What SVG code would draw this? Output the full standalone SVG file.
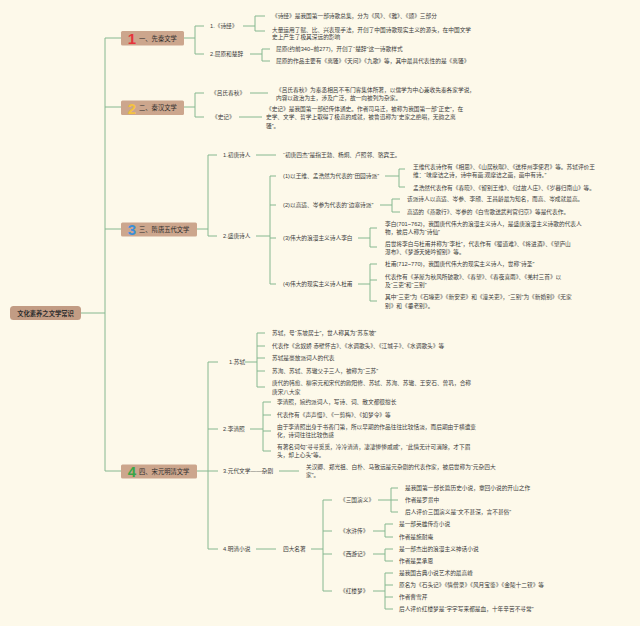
<svg xmlns="http://www.w3.org/2000/svg" width="640" height="626" viewBox="0 0 640 626">
<style>
text{font-family:"Liberation Sans","Noto Sans CJK SC",sans-serif;dominant-baseline:central;fill:#3c3c3c}
.t{font-size:5.7px}
.h{font-size:6.3px;fill:#2e2e2e}
.r{font-size:6.3px;font-weight:bold;fill:#2e2e2e}
.n{font-size:15px;font-weight:bold}
text.n1{fill:#e5343c}
text.n2{fill:#f4c240}
text.n3{fill:#3b8fd8}
text.n4{fill:#3aa548}
.box{fill:#cca68d}
.root{fill:#c29c84}
.l{fill:none;stroke:#86b890;stroke-width:1}
</style>
<rect width="640" height="626" fill="#fdf9ea"/>
<g id="connectors" class="l">
<path d="M81,313H105M105,38V471M105,38H121M105,107H121M105,229H121M105,471H121"/>
<path d="M184,38H195M195,26V54M195,26H204M195,54H204"/>
<path d="M243,26H255M255,16V31M255,16H265M255,31H265"/>
<path d="M250,54H262M262,49V61M262,49H270M262,61H270"/>
<path d="M184,107H195M195,93V117M195,93H204M195,117H204"/>
<path d="M250,93H268M239,117H262"/>
<path d="M197,229H208M208,155V236M208,155H217M208,236H217"/>
<path d="M256,155H276"/>
<path d="M256,236H270M270,176V284M270,176H276M270,205H276M270,238H276M270,284H276"/>
<path d="M385,176H399M399,169V187M399,169H405M399,187H405"/>
<path d="M380,205H392M392,199V212M392,199H400M392,212H400"/>
<path d="M358,238H370M370,228V247M370,228H377M370,247H377"/>
<path d="M358,284H370M370,264V301M370,264H377M370,280H377M370,301H377"/>
<path d="M197,471H208M208,362V549M208,362H218M208,429H218M208,471H218M208,549H218"/>
<path d="M245,362H257M257,333V387M257,333H265M257,346H265M257,358H265M257,371H265M257,387H265"/>
<path d="M250,429H263M263,402V451M263,402H271M263,415H271M263,431H271M263,451H271"/>
<path d="M279,471H299"/>
<path d="M256,549H276M311,549H323M323,500V591M323,500H332M323,531H332M323,554H332M323,591H332"/>
<path d="M378,500H391M391,488V512M391,488H398M391,500H398M391,512H398"/>
<path d="M373,531H385M385,524V537M385,524H393M385,537H393"/>
<path d="M373,554H385M385,549V561M385,549H393M385,561H393"/>
<path d="M373,591H385M385,573V609M385,573H393M385,585H393M385,597H393M385,609H393"/>
</g>
<g id="root"><rect class="root" x="10" y="306" width="71" height="14" rx="3.5"/><text class="r" x="45.5" y="313" text-anchor="middle">文化素养之文学常识</text></g>
<g id="s1"><rect class="box" x="121" y="31" width="63" height="14.5" rx="1.5"/><text class="n n1" x="132" y="38.5" text-anchor="middle">1</text><text class="h" x="139" y="38.3">一、先秦文学</text></g>
<g id="s2"><rect class="box" x="121" y="100.5" width="63" height="14.5" rx="1.5"/><text class="n n2" x="132" y="108" text-anchor="middle">2</text><text class="h" x="139" y="107.8">二、秦汉文学</text></g>
<g id="s3"><rect class="box" x="121" y="222.5" width="76" height="14" rx="1.5"/><text class="n n3" x="132" y="229.8" text-anchor="middle">3</text><text class="h" x="139" y="229.5">三、隋唐五代文学</text></g>
<g id="s4"><rect class="box" x="121" y="464.5" width="76" height="14" rx="1.5"/><text class="n n4" x="132" y="471.8" text-anchor="middle">4</text><text class="h" x="139" y="471.5">四、宋元明清文学</text></g>
<g id="s1c">
<text class="t" x="210" y="26">1.《诗经》</text>
<text class="t" x="272" y="16">《诗经》是我国第一部诗歌总集，分为《风》、《雅》、《颂》三部分</text>
<text class="t" x="272" y="30">大量运用了赋、比、兴表现手法，开创了中国诗歌现实主义的源头，在中国文学</text>
<text class="t" x="272" y="37">史上产生了极其深远的影响</text>
<text class="t" x="210" y="54">2.屈原和楚辞</text>
<text class="t" x="276" y="49">屈原(约前340~前277)，开创了“楚辞”这一诗歌样式</text>
<text class="t" x="276" y="61">屈原的作品主要有《离骚》《天问》《九歌》等，其中最具代表性的是《离骚》</text>
</g>
<g id="s2c">
<text class="t" x="211" y="93">《吕氏春秋》</text>
<text class="t" x="276" y="90">《吕氏春秋》为秦丞相吕不韦门客集体所著，以儒学为中心兼收先秦各家学说，</text>
<text class="t" x="276" y="98">内容以政治为主，涉及广泛，故一向被列为杂家。</text>
<text class="t" x="212" y="117">《史记》</text>
<text class="t" x="266" y="109">《史记》是我国第一部纪传体通史。作者司马迁，被称为我国第一部“正史”，在</text>
<text class="t" x="266" y="117">史学、文学、哲学上取得了极高的成就，被鲁迅称为“史家之绝唱，无韵之离</text>
<text class="t" x="266" y="126">骚”。</text>
</g>
<g id="s3c">
<text class="t" x="223" y="155">1.初唐诗人</text>
<text class="t" x="283" y="155">“初唐四杰”是指王勃、杨炯、卢照邻、骆宾王。</text>
<text class="t" x="223" y="236">2.盛唐诗人</text>
<text class="t" x="283" y="176">(1)以王维、孟浩然为代表的“田园诗派”</text>
<text class="t" x="413" y="167">王维代表诗作有《相思》、《山居秋暝》、《送梓州李使君》等。苏轼评价王</text>
<text class="t" x="413" y="175">维：“味摩诘之诗，诗中有画;观摩诘之画，画中有诗。”</text>
<text class="t" x="413" y="188">孟浩然代表作有《春晓》、《留别王维》、《过故人庄》、《岁暮归南山》等。</text>
<text class="t" x="283" y="205">(2)以高适、岑参为代表的“边塞诗派”</text>
<text class="t" x="407" y="199">该派诗人以高适、岑参、李颀、王昌龄最为知名，而高、岑成就最高。</text>
<text class="t" x="407" y="212">高适的《燕歌行》、岑参的《白雪歌送武判官归京》等是代表作。</text>
<text class="t" x="283" y="238">(3)伟大的浪漫主义诗人李白</text>
<text class="t" x="385" y="224">李白(701~762)，我国唐代伟大的浪漫主义诗人，是盛唐浪漫主义诗歌的代表人</text>
<text class="t" x="385" y="232">物，被后人称为“诗仙”</text>
<text class="t" x="385" y="243.5">后世将李白与杜甫并称为“李杜”，代表作有《蜀道难》、《将进酒》、《望庐山</text>
<text class="t" x="385" y="252">瀑布》、《梦游天姥吟留别》等。</text>
<text class="t" x="283" y="284">(4)伟大的现实主义诗人杜甫</text>
<text class="t" x="385" y="264">杜甫(712~770)，我国唐代伟大的现实主义诗人，世称“诗圣”</text>
<text class="t" x="385" y="276.5">代表作有《茅屋为秋风所破歌》、《春望》、《春夜喜雨》、《羌村三首》以</text>
<text class="t" x="385" y="284.5">及“三吏”和“三别”</text>
<text class="t" x="385" y="297">其中“三吏”为《石壕吏》《新安吏》和《潼关吏》，“三别”为《新婚别》《无家</text>
<text class="t" x="385" y="305.5">别》和《垂老别》。</text>
</g>
<g id="s4c">
<text class="t" x="229" y="362">1.苏轼</text>
<text class="t" x="272" y="333">苏轼，号“东坡居士”，世人称其为“苏东坡”</text>
<text class="t" x="272" y="346">代表作《念奴娇 赤壁怀古》、《水调歌头》、《江城子》、《水调歌头》等</text>
<text class="t" x="272" y="358">苏轼是豪放派词人的代表</text>
<text class="t" x="272" y="371">苏洵、苏轼、苏辙父子三人，被称为“三苏”</text>
<text class="t" x="272" y="383">唐代的韩愈、柳宗元和宋代的欧阳修、苏轼、苏洵、苏辙、王安石、曾巩，合称</text>
<text class="t" x="272" y="391.5">唐宋八大家</text>
<text class="t" x="223" y="429">2.李清照</text>
<text class="t" x="277" y="402">李清照，婉约派词人，写诗、词、散文都很擅长</text>
<text class="t" x="277" y="415">代表作有《声声慢》、《一剪梅》、《如梦令》等</text>
<text class="t" x="277" y="427">由于李清照出身于书香门第，所以早期的作品往往比较恬淡，而后期由于横遭变</text>
<text class="t" x="277" y="435">化，诗词往往比较伤感</text>
<text class="t" x="277" y="447">有著名词句“寻寻觅觅，冷冷清清，凄凄惨惨戚戚”，“此情无计可消除，才下眉</text>
<text class="t" x="277" y="455">头，却上心头”等。</text>
<text class="t" x="223" y="471">3.元代文学——杂剧</text>
<text class="t" x="306" y="466.5">关汉卿、郑光祖、白朴、马致远是元杂剧的代表作家，被后世称为“元杂四大</text>
<text class="t" x="306" y="475">家”。</text>
<text class="t" x="223" y="549">4.明清小说</text>
<text class="t" x="283" y="549">四大名著</text>
<text class="t" x="340" y="500">《三国演义》</text>
<text class="t" x="405" y="488">是我国第一部长篇历史小说，章回小说的开山之作</text>
<text class="t" x="405" y="500">作者是罗贯中</text>
<text class="t" x="405" y="512">后人评价三国演义是“文不甚深，言不甚俗”</text>
<text class="t" x="340" y="531">《水浒传》</text>
<text class="t" x="399" y="524">是一部英雄传奇小说</text>
<text class="t" x="399" y="537">作者是施耐庵</text>
<text class="t" x="340" y="554">《西游记》</text>
<text class="t" x="399" y="549">是一部杰出的浪漫主义神话小说</text>
<text class="t" x="399" y="561">作者是吴承恩</text>
<text class="t" x="340" y="591">《红楼梦》</text>
<text class="t" x="399" y="573">是我国古典小说艺术的最高峰</text>
<text class="t" x="399" y="585">原名为《石头记》《情僧录》《风月宝鉴》《金陵十二钗》等</text>
<text class="t" x="399" y="597">作者曹雪芹</text>
<text class="t" x="399" y="609">后人评价红楼梦是“字字写来都是血，十年辛苦不寻常”</text>
</g>
</svg>
